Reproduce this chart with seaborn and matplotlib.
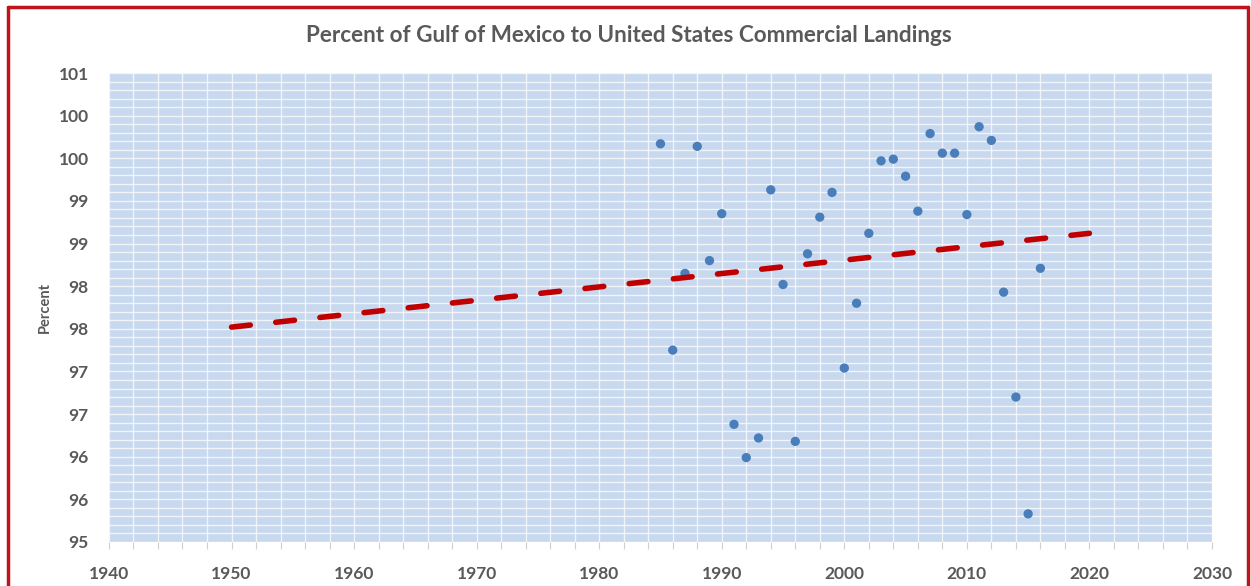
import math
import matplotlib
matplotlib.use("Agg")
import matplotlib.pyplot as plt
import seaborn as sns
from matplotlib.ticker import MultipleLocator, FuncFormatter
from matplotlib.lines import Line2D

# --- Data ---
years = [1985, 1986, 1987, 1988, 1989, 1990, 1991, 1992, 1993, 1994,
         1995, 1996, 1997, 1998, 1999, 2000, 2001, 2002, 2003, 2004,
         2005, 2006, 2007, 2008, 2009, 2010, 2011, 2012, 2013, 2014,
         2015, 2016]
percent = [99.67, 97.25, 98.15, 99.64, 98.30, 98.85, 96.38, 95.99, 96.22, 99.13,
           98.02, 96.18, 98.38, 98.81, 99.10, 97.04, 97.80, 98.62, 99.47, 99.49,
           99.29, 98.88, 99.79, 99.56, 99.56, 98.84, 99.87, 99.71, 97.93, 96.70,
           95.33, 98.21]
trend_years = [1950, 2020]
trend_values = [97.52, 98.62]

TITLE = "Percent of Gulf of Mexico to United States Commercial Landings"
GRAY = "#595959"

# --- Style ---
sns.set_theme(style="white")
plt.rcParams["font.family"] = ["Lato", "DejaVu Sans"]

fig = plt.figure(figsize=(12.51, 5.86), dpi=100)
ax = fig.add_axes([0.0871, 0.0751, 0.9688 - 0.0871, 0.8754 - 0.0751])
ax.set_facecolor("#C8D8EE")

sns.scatterplot(x=years, y=percent, ax=ax, color="#4A7EBB", s=45,
                edgecolor="none", zorder=3)
sns.lineplot(x=trend_years, y=trend_values, ax=ax, color="#C00000",
             linewidth=4, linestyle=(0, (3.4, 4.6)), dash_capstyle="round",
             zorder=4)

ax.set_xlim(1940, 2030)
ax.set_ylim(95, 100.5)
ax.xaxis.set_major_locator(MultipleLocator(10))
ax.xaxis.set_minor_locator(MultipleLocator(2))
ax.yaxis.set_major_locator(MultipleLocator(0.5))
ax.yaxis.set_minor_locator(MultipleLocator(0.1))
# Excel-style rounding of the 0.5 steps (95.5 -> 96)
ax.yaxis.set_major_formatter(FuncFormatter(lambda v, p: f"{math.floor(v + 0.5 + 1e-9):d}"))

ax.grid(which="both", color="white", linewidth=1.0, alpha=0.75)
ax.set_axisbelow(True)
for s in ax.spines.values():
    s.set_visible(False)

ax.tick_params(axis="x", which="both", bottom=True, length=5, width=0.8,
               color="#D0D0D0", pad=12, labelsize=12.5, labelcolor=GRAY)
ax.tick_params(axis="y", which="both", left=False, pad=8.5, labelsize=12.5,
               labelcolor=GRAY)
for lab in ax.get_xticklabels() + ax.get_yticklabels():
    lab.set_fontweight("bold")

ax.set_ylabel("Percent", fontsize=10.5, fontweight="bold", color=GRAY, labelpad=5)
fig.text(0.503, 0.94, TITLE, ha="center", va="center", fontsize=16.2,
         fontweight="bold", color=GRAY)

# red frame around the chart (bottom edge lies outside the picture)
frame_kw = dict(color="#C0141C", linewidth=2.5, transform=fig.transFigure)
fig.add_artist(Line2D([0.0065, 0.0065], [0, 0.988], **frame_kw))
fig.add_artist(Line2D([0.0065, 0.998], [0.988, 0.988], **frame_kw))
fig.add_artist(Line2D([0.998, 0.998], [0, 0.988], **frame_kw))

fig.savefig("out.png", dpi=100)
